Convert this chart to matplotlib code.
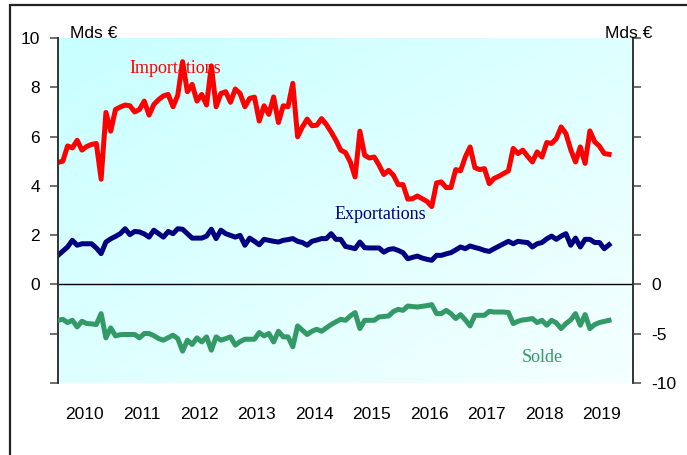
import numpy as np
import matplotlib
matplotlib.use("Agg")
import matplotlib.pyplot as plt
from matplotlib.patches import Rectangle

# ---- data (monthly, Jan 2010 -> Aug 2019), billions of euros ----
importations = [
    4.95, 5.00, 5.62, 5.54, 5.85, 5.45, 5.60, 5.68, 5.72, 4.27, 6.98, 6.22,
    7.10, 7.20, 7.28, 7.25, 7.00, 7.10, 7.44, 6.87, 7.30, 7.50, 7.65, 7.71,
    7.21, 7.68, 9.04, 7.82, 8.12, 7.44, 7.71, 7.28, 8.87, 7.21, 7.75, 7.82,
    7.39, 7.93, 7.75, 7.21, 7.55, 7.60, 6.63, 7.25, 6.90, 7.61, 6.57, 7.25,
    7.21, 8.16, 5.99, 6.39, 6.71, 6.44, 6.46, 6.73, 6.49, 6.19, 5.85, 5.45,
    5.35, 4.97, 4.36, 6.22, 5.24, 5.13, 5.17, 4.84, 4.46, 4.63, 4.43, 4.05,
    4.05, 3.46, 3.48, 3.59, 3.48, 3.37, 3.16, 4.12, 4.16, 3.93, 3.93, 4.66,
    4.61, 5.17, 5.58, 4.74, 4.66, 4.70, 4.09, 4.30, 4.39, 4.50, 4.61, 5.52,
    5.31, 5.45, 5.20, 4.97, 5.38, 5.17, 5.76, 5.72, 5.92, 6.39, 6.12, 5.47,
    4.97, 5.58, 4.91, 6.23, 5.79, 5.61, 5.31, 5.28,
]
exportations = [
    1.18, 1.35, 1.52, 1.79, 1.59, 1.65, 1.65, 1.65, 1.48, 1.25, 1.72, 1.85,
    1.95, 2.06, 2.26, 2.02, 2.15, 2.13, 2.05, 1.92, 2.20, 2.06, 1.92, 2.15,
    2.06, 2.26, 2.24, 2.06, 1.88, 1.88, 1.88, 1.96, 2.24, 1.86, 2.20, 2.06,
    1.99, 1.92, 1.99, 1.59, 1.88, 1.75, 1.61, 1.83, 1.79, 1.75, 1.72, 1.79,
    1.82, 1.86, 1.75, 1.70, 1.59, 1.75, 1.80, 1.86, 1.86, 2.06, 1.83, 1.83,
    1.54, 1.50, 1.45, 1.72, 1.49, 1.48, 1.48, 1.48, 1.31, 1.42, 1.45, 1.38,
    1.29, 1.04, 1.10, 1.15, 1.07, 1.02, 0.98, 1.18, 1.18, 1.24, 1.29, 1.40,
    1.52, 1.45, 1.56, 1.50, 1.45, 1.38, 1.34, 1.45, 1.55, 1.65, 1.75, 1.65,
    1.75, 1.72, 1.70, 1.52, 1.65, 1.70, 1.85, 1.96, 1.83, 1.96, 2.06, 1.59,
    1.88, 1.52, 1.83, 1.83, 1.70, 1.70, 1.45, 1.61,
]
solde = [
    -3.64, -3.54, -3.87, -3.64, -4.31, -3.74, -3.97, -4.00, -4.07, -2.96, -5.42, -4.41,
    -5.22, -5.10, -5.08, -5.08, -5.08, -5.42, -4.98, -4.98, -5.20, -5.49, -5.66, -5.40,
    -5.15, -5.50, -6.77, -5.66, -6.09, -5.42, -5.83, -5.32, -6.67, -5.32, -5.66, -5.50,
    -5.32, -6.16, -5.80, -5.56, -5.56, -5.56, -4.88, -5.22, -4.98, -5.83, -4.75, -5.32,
    -5.32, -6.33, -4.21, -4.65, -5.08, -4.75, -4.55, -4.75, -4.41, -4.07, -3.80, -3.54,
    -3.64, -3.20, -2.86, -4.48, -3.64, -3.64, -3.64, -3.30, -3.25, -3.20, -2.75, -2.53,
    -2.63, -2.19, -2.25, -2.29, -2.22, -2.15, -2.05, -2.96, -2.96, -2.63, -2.96, -3.46,
    -3.06, -3.60, -4.21, -3.13, -3.13, -3.13, -2.73, -2.80, -2.80, -2.80, -2.85, -3.97,
    -3.74, -3.60, -3.55, -3.46, -3.87, -3.64, -4.14, -3.64, -3.90, -4.48, -3.97, -3.60,
    -2.96, -4.14, -3.06, -4.48, -4.07, -3.87, -3.75, -3.64,
]
years = list(range(2010, 2020))
left_tick_labels = ["", "", "0", "2", "4", "6", "8", "10"]
right_tick_labels = ["-10", "-5", "0", "", "", "", "", ""]

months = np.arange(len(importations))

W, H = 687, 455
fig = plt.figure(figsize=(W / 100, H / 100), dpi=100)
fig.patch.set_facecolor("white")

# outer frame
fig.add_artist(Rectangle((10 / W, -0.05), 1.2, 1 - 5 / H + 0.05,
                         transform=fig.transFigure, fill=False,
                         edgecolor="#222222", linewidth=1.6))

ax = fig.add_axes([58 / W, 1 - 383 / H, (633 - 58) / W, (383 - 38) / H])
ax.set_xlim(0, 120)
ax.set_ylim(-4, 10)

# gradient background: saturated pale cyan top-left -> near white bottom-right
g = np.linspace(0, 1, 200)
gx, gy = np.meshgrid(g, g)
t = (gx + gy) / 2  # row 0 is the top (origin="upper")
img = np.zeros((200, 200, 3))
img[..., 0] = (200 + 45 * t) / 255
img[..., 1] = 1.0
img[..., 2] = 1.0
ax.imshow(img, extent=[0, 120, -4, 10], aspect="auto", origin="upper", zorder=0)

ax.axhline(0, color="black", lw=1.0, zorder=2)
ax.plot(months, importations, color="#FF0000", lw=3.6, solid_joinstyle="round", zorder=3)
ax.plot(months, exportations, color="#000080", lw=3.6, solid_joinstyle="round", zorder=3)

ax.set_yticks(np.arange(-4, 11, 2))
ax.set_yticklabels(left_tick_labels)
ax.set_xticks([12 * i + 5.5 for i in range(len(years))])
ax.set_xticklabels([str(y) for y in years])

ax2 = ax.twinx()
ax2.set_ylim(-10, 25)
ax2.plot(months, solde, color="#339966", lw=3.6, solid_joinstyle="round", zorder=3)
ax2.set_yticks(np.arange(-10, 26, 5))
ax2.set_yticklabels(right_tick_labels)

font = "Liberation Sans"
for a in (ax, ax2):
    for s in ("top", "bottom"):
        a.spines[s].set_visible(False)
    a.spines["left"].set_color("#333333")
    a.spines["right"].set_color("#333333")
    a.spines["left"].set_linewidth(1.2)
    a.spines["right"].set_linewidth(1.2)
ax.tick_params(axis="y", length=6, width=1.2, color="#555555", pad=7,
               labelsize=12.5, labelfontfamily=font)
ax.tick_params(axis="x", length=0, pad=17, labelsize=12.5, labelfontfamily=font)
ax2.tick_params(axis="y", length=6, width=1.2, color="#555555", pad=7,
                labelsize=12.5, labelfontfamily=font)

fig.text(70 / W, 1 - 33 / H, "Mds €", fontsize=12.5, family=font, va="center", ha="left")
fig.text(605 / W, 1 - 33 / H, "Mds €", fontsize=12.5, family=font, va="center", ha="left")

serif = "Liberation Serif"
ax.text(24.4, 8.78, "Importations", color="#FF0000", fontsize=13, family=serif,
        ha="center", va="center", zorder=2)
ax.text(67.2, 2.85, "Exportations", color="#000080", fontsize=13, family=serif,
        ha="center", va="center", zorder=2)
ax2.text(101, -7.37, "Solde", color="#339966", fontsize=13, family=serif,
         ha="center", va="center", zorder=2)

fig.savefig("out.png", dpi=100)
